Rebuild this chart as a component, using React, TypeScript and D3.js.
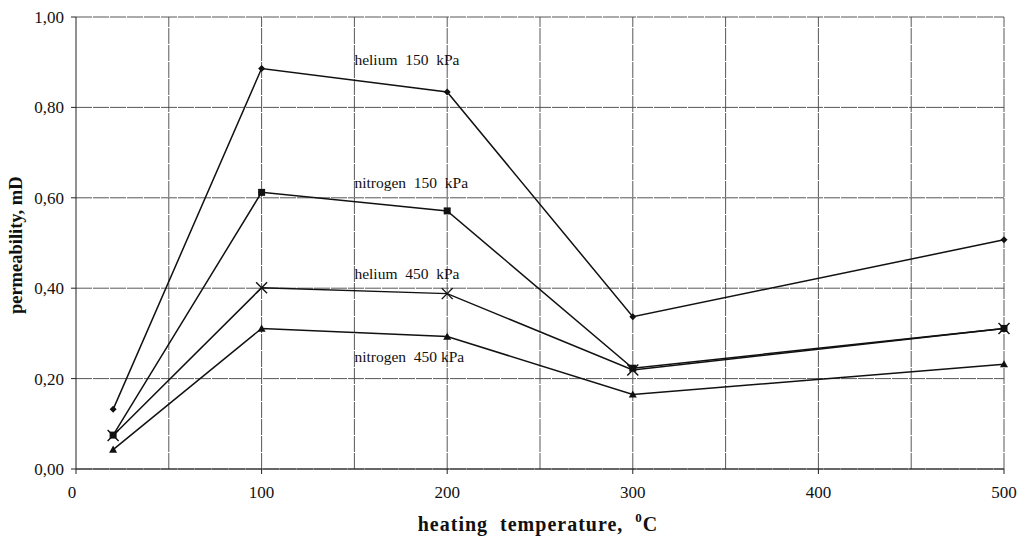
import React from "react";
import * as d3 from "d3";

const temperatures = [20, 100, 200, 300, 500];
const helium150 = [0.132, 0.886, 0.834, 0.337, 0.507];
const nitrogen150 = [0.075, 0.612, 0.571, 0.223, 0.311];
const helium450 = [0.074, 0.401, 0.388, 0.219, 0.311];
const nitrogen450 = [0.043, 0.311, 0.293, 0.165, 0.232];

const xTicks = [0, 100, 200, 300, 400, 500];
const xGrid = [50, 100, 150, 200, 250, 300, 350, 400, 450, 500];
const yTicks = [0, 0.2, 0.4, 0.6, 0.8, 1.0];

const seriesNames = ["helium  150  kPa", "nitrogen  150  kPa", "helium  450  kPa", "nitrogen  450 kPa"];
const seriesValues = [helium150, nitrogen150, helium450, nitrogen450];
const seriesMarkers = ["diamond", "square", "cross", "triangle"];
const labelAnchors = [
  { x: 150, y: 0.893 },
  { x: 150, y: 0.622 },
  { x: 150, y: 0.42 },
  { x: 150, y: 0.237 },
];

const W = 1022;
const H = 536;
const FONT = "Liberation Serif, Times New Roman, DejaVu Serif, serif";
const textStyle: React.CSSProperties = { fontFamily: FONT, whiteSpace: "pre" };

function Marker({ type, x, y }: { type: string; x: number; y: number }) {
  if (type === "diamond") {
    const s = 3.5;
    return <path d={`M${x},${y - s}L${x + s},${y}L${x},${y + s}L${x - s},${y}Z`} fill="#111" />;
  }
  if (type === "square") {
    return <rect x={x - 3.5} y={y - 3.5} width={7} height={7} fill="#111" />;
  }
  if (type === "cross") {
    const s = 5.5;
    return (
      <path
        d={`M${x - s},${y - s}L${x + s},${y + s}M${x - s},${y + s}L${x + s},${y - s}`}
        stroke="#111"
        strokeWidth={1.4}
      />
    );
  }
  const s = 4;
  return <path d={`M${x},${y - s}L${x + s},${y + s * 0.8}L${x - s},${y + s * 0.8}Z`} fill="#111" />;
}

export default function App() {
  const x = d3.scaleLinear().domain([0, 500]).range([76, 1004]);
  const y = d3.scaleLinear().domain([0, 1]).range([469, 17]);
  const line = d3
    .line<number>()
    .x((_, i) => x(temperatures[i]))
    .y((d) => y(d));

  return (
    <svg width={W} height={H} style={{ position: "absolute", left: 0, top: 0, background: "#fff" }}>
      <rect width={W} height={H} fill="#fff" />
      {/* grid */}
      {yTicks.map((t) => (
        <line key={"gy" + t} x1={x(0)} x2={x(500)} y1={y(t)} y2={y(t)} stroke="#444" strokeWidth={0.9} strokeDasharray="16,1" />
      ))}
      {xGrid.map((t) => (
        <line key={"gx" + t} x1={x(t)} x2={x(t)} y1={y(0)} y2={y(1)} stroke="#444" strokeWidth={0.9} strokeDasharray="16,1" />
      ))}
      {/* axes */}
      <line x1={x(0)} x2={x(0)} y1={y(0)} y2={y(1)} stroke="#222" strokeWidth={1} />
      <line x1={x(0)} x2={x(500)} y1={y(0)} y2={y(0)} stroke="#222" strokeWidth={1} />
      {yTicks.map((t) => (
        <g key={"ty" + t}>
          <line x1={x(0) - 5} x2={x(0)} y1={y(t)} y2={y(t)} stroke="#222" />
          <text x={x(0) - 12} y={y(t) + 6} textAnchor="end" style={textStyle} fontSize={17} fill="#111">
            {d3.format(".2f")(t).replace(".", ",")}
          </text>
        </g>
      ))}
      {xTicks.map((t) => (
        <g key={"tx" + t}>
          <line x1={x(t)} x2={x(t)} y1={y(0)} y2={y(0) + 5} stroke="#222" />
          <text x={x(t) - (t === 0 ? 4 : 0)} y={498} textAnchor="middle" style={textStyle} fontSize={17} fill="#111">
            {t}
          </text>
        </g>
      ))}
      {/* series */}
      {seriesValues.map((vals, si) => (
        <g key={"s" + si}>
          <path d={line(vals) || ""} fill="none" stroke="#111" strokeWidth={1.5} />
          {vals.map((v, i) => (
            <Marker key={i} type={seriesMarkers[si]} x={x(temperatures[i])} y={y(v)} />
          ))}
          <text x={x(labelAnchors[si].x)} y={y(labelAnchors[si].y)} style={textStyle} fontSize={15.5} fill="#111">
            {seriesNames[si]}
          </text>
        </g>
      ))}
      {/* axis titles */}
      <text x={538} y={531} textAnchor="middle" style={{ ...textStyle, letterSpacing: "1px" }} fontSize={20} fontWeight="bold" fill="#111">
        {"heating  temperature,  "}
        <tspan fontSize={13} dy={-9}>0</tspan>
        <tspan dy={9}>C</tspan>
      </text>
      <text
        transform={`translate(22,${y(0.495)}) rotate(-90)`}
        textAnchor="middle"
        style={textStyle}
        fontSize={18.5}
        fontWeight="bold"
        fill="#111"
      >
        permeability, mD
      </text>
    </svg>
  );
}
